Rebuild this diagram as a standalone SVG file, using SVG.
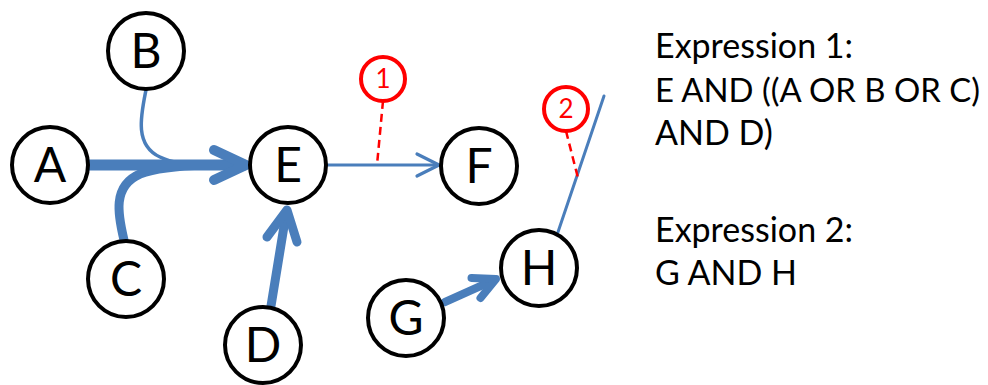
<svg xmlns="http://www.w3.org/2000/svg" width="988" height="385" viewBox="0 0 988 385">
<style>
.node circle{fill:#fff;stroke:#000;stroke-width:4}
.node text{font-family:Lato,"Liberation Sans",sans-serif;font-size:48px;fill:#000;text-anchor:middle}
.edge{fill:none;stroke:#4A7EBB;stroke-linecap:round;stroke-linejoin:round}
.note circle{fill:#fff;stroke:#FF0000;stroke-width:4}
.note text{font-family:Lato,"Liberation Sans",sans-serif;font-size:26px;fill:#FF0000;text-anchor:middle}
.dash{fill:none;stroke:#FF0000;stroke-width:2.5;stroke-dasharray:8 5}
.expr{font-family:Lato,"Liberation Sans",sans-serif;font-size:34px;fill:#000}
</style>
<rect width="988" height="385" fill="#fff"/>
<g id="connectors">
  <path class="edge" d="M146,90 C141,115 134,145 160,157 C172,163 188,165 210,165" stroke-width="3.5"/>
  <path class="edge" d="M124,240 C118,215 112,186 140,174 C156,168 176,166 205,165" stroke-width="9" stroke-linecap="butt"/>
  <path class="edge" d="M89,165 L244,165" stroke-width="11" stroke-linecap="butt"/>
  <path class="edge" d="M214,150 L246,165 L214,180" stroke-width="10"/>
  <path class="edge" d="M271,306 L286,214" stroke-width="9" stroke-linecap="butt"/>
  <path class="edge" d="M267,237 L287,210 L297,242" stroke-width="9"/>
  <path class="edge" d="M445,302 L494,280" stroke-width="8" stroke-linecap="butt"/>
  <path class="edge" d="M471.5,278 L496,279 L480.5,298" stroke-width="8"/>
  <path class="edge" d="M327,165 L438,165" stroke-width="3.2"/>
  <path class="edge" d="M417,154 L439,165 L417,176" stroke-width="3.2"/>
  <path class="edge" d="M558,232 L604,96" stroke-width="3" stroke-linecap="butt"/>
  <path class="dash" d="M383,101 L377,165"/>
  <path class="dash" d="M566,131 L578,178"/>
</g>
<g id="node-A" class="node"><circle cx="50" cy="165" r="38"/><text x="50" y="182">A</text></g>
<g id="node-B" class="node"><circle cx="146" cy="51" r="38"/><text x="146" y="68">B</text></g>
<g id="node-C" class="node"><circle cx="126" cy="279" r="38"/><text x="126" y="296">C</text></g>
<g id="node-D" class="node"><circle cx="263" cy="345" r="38"/><text x="263" y="362">D</text></g>
<g id="node-E" class="node"><circle cx="288" cy="165" r="38"/><text x="288" y="182">E</text></g>
<g id="node-F" class="node"><circle cx="479" cy="166" r="38"/><text x="479" y="183">F</text></g>
<g id="node-G" class="node"><circle cx="406" cy="318" r="38"/><text x="406" y="335">G</text></g>
<g id="node-H" class="node"><circle cx="539" cy="268" r="38"/><text x="539" y="285">H</text></g>
<g id="note-1" class="note"><circle cx="383" cy="79" r="22"/><text x="383" y="88">1</text></g>
<g id="note-2" class="note"><circle cx="566" cy="109" r="22"/><text x="566" y="118">2</text></g>
<g id="expressions" class="expr">
  <text x="655" y="58">Expression 1:</text>
  <text x="655" y="102" font-size="33" textLength="325" lengthAdjust="spacingAndGlyphs">E AND ((A OR B OR C)</text>
  <text x="655" y="145">AND D)</text>
  <text x="655" y="242">Expression 2:</text>
  <text x="655" y="285">G AND H</text>
</g>
</svg>
